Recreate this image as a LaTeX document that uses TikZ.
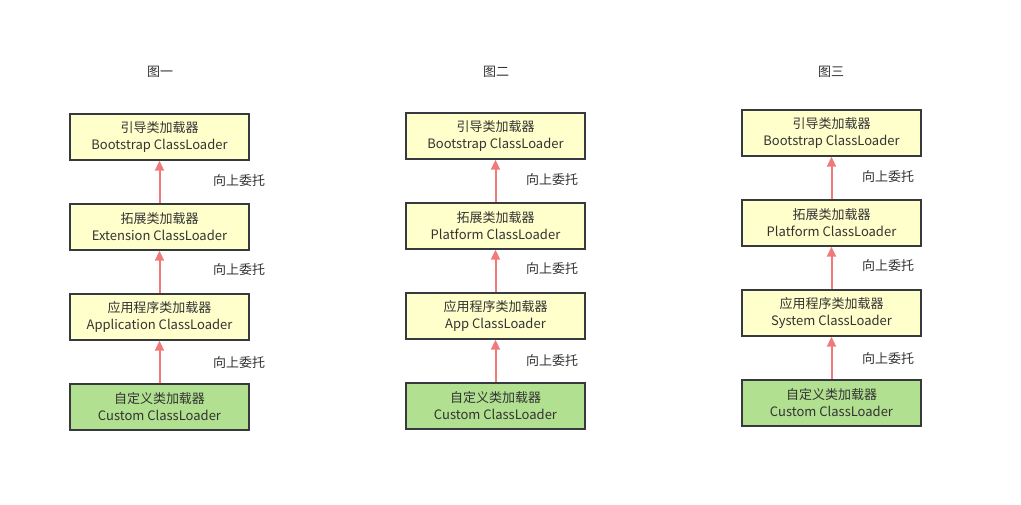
\documentclass[tikz,border=0pt]{standalone}
\usepackage{fontspec}
\setmainfont{Noto Sans CJK SC}
\usetikzlibrary{arrows.meta}
\definecolor{loaderfill}{HTML}{FFFFCC}
\definecolor{customfill}{HTML}{B0E090}
\definecolor{edgegray}{HTML}{36393D}
\definecolor{arrowred}{HTML}{F07A7A}
\definecolor{textgray}{HTML}{333333}
\begin{document}
\begin{tikzpicture}[x=1pt,y=-1pt,
    loader/.style={draw=edgegray, line width=1.4pt, fill=loaderfill, minimum width=179pt, minimum height=46pt,
        inner sep=0pt, align=center, text=textgray, font=\fontsize{13}{17}\selectfont},
    custom/.style={loader, fill=customfill},
    delegate/.style={draw=arrowred, fill=arrowred, line width=2pt, -{Triangle[length=10pt,width=9pt]}},
    tag/.style={text=textgray, font=\fontsize{13}{15}\selectfont},
    title/.style={text=textgray, font=\fontsize{13}{15}\selectfont}]
    \useasboundingbox (0,0) rectangle (1021,504);
    % 图一
    \node[title] (t1) at (160,72) {图一};
    \node[loader] (boot1) at (159.5,137) {引导类加载器\\Bootstrap ClassLoader};
    \node[loader] (ext1) at (159.5,227) {拓展类加载器\\Extension ClassLoader};
    \node[loader] (app1) at (159.5,317) {应用程序类加载器\\Application ClassLoader};
    \node[custom] (cus1) at (159.5,407) {自定义类加载器\\Custom ClassLoader};
    \draw[delegate] (ext1) -- (boot1);
    \draw[delegate] (app1) -- (ext1);
    \draw[delegate] (cus1) -- (app1);
    \node[tag] (d11) at (239,181) {向上委托};
    \node[tag] (d12) at (239,270) {向上委托};
    \node[tag] (d13) at (239,363) {向上委托};
    % 图二
    \node[title] (t2) at (496,72) {图二};
    \node[loader] (boot2) at (495.5,136) {引导类加载器\\Bootstrap ClassLoader};
    \node[loader] (ext2) at (495.5,226) {拓展类加载器\\Platform ClassLoader};
    \node[loader] (app2) at (495.5,316) {应用程序类加载器\\App ClassLoader};
    \node[custom] (cus2) at (495.5,406) {自定义类加载器\\Custom ClassLoader};
    \draw[delegate] (ext2) -- (boot2);
    \draw[delegate] (app2) -- (ext2);
    \draw[delegate] (cus2) -- (app2);
    \node[tag] (d21) at (552,180) {向上委托};
    \node[tag] (d22) at (552,269) {向上委托};
    \node[tag] (d23) at (552,361) {向上委托};
    % 图三
    \node[title] (t3) at (831,72) {图三};
    \node[loader] (boot3) at (831.5,133) {引导类加载器\\Bootstrap ClassLoader};
    \node[loader] (ext3) at (831.5,223) {拓展类加载器\\Platform ClassLoader};
    \node[loader] (app3) at (831.5,313) {应用程序类加载器\\System ClassLoader};
    \node[custom] (cus3) at (831.5,403) {自定义类加载器\\Custom ClassLoader};
    \draw[delegate] (ext3) -- (boot3);
    \draw[delegate] (app3) -- (ext3);
    \draw[delegate] (cus3) -- (app3);
    \node[tag] (d31) at (888,177) {向上委托};
    \node[tag] (d32) at (888,266) {向上委托};
    \node[tag] (d33) at (888,359) {向上委托};
\end{tikzpicture}
\end{document}
